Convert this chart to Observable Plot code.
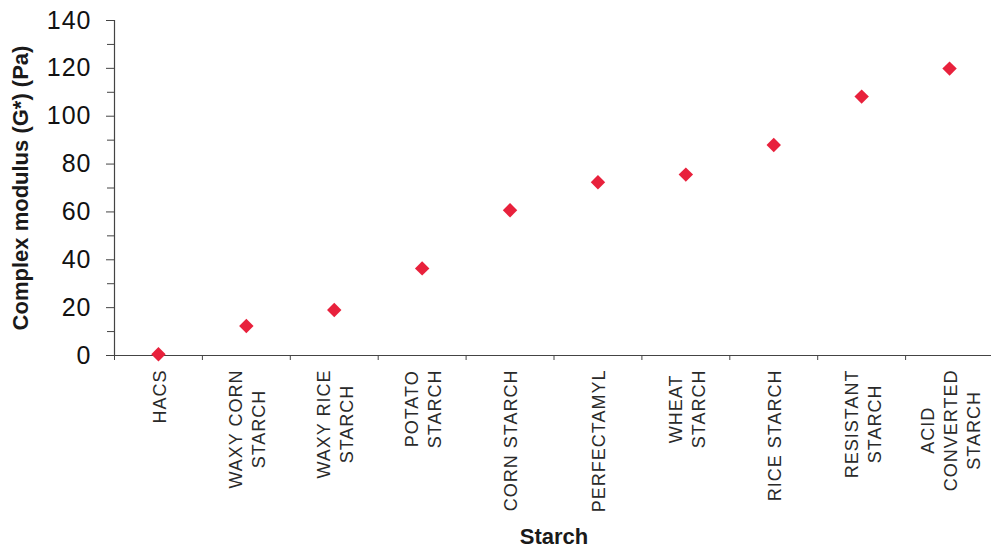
<!DOCTYPE html>
<html>
<head>
<meta charset="utf-8">
<script src="https://cdn.jsdelivr.net/npm/d3@7"></script>
<script src="https://cdn.jsdelivr.net/npm/@observablehq/plot@0.6"></script>
<style>
  html, body { margin: 0; padding: 0; background: #fff; }
  #chart svg { display: block; }
</style>
</head>
<body>
<div id="chart"></div>
<script>
const categories = ["HACS", "WAXY CORN STARCH", "WAXY RICE STARCH", "POTATO STARCH", "CORN STARCH",
  "PERFECTAMYL", "WHEAT STARCH", "RICE STARCH", "RESISTANT STARCH", "ACID CONVERTED STARCH"];
const tickLabels = ["HACS", "WAXY CORN\nSTARCH", "WAXY RICE\nSTARCH", "POTATO\nSTARCH", "CORN STARCH",
  "PERFECTAMYL", "WHEAT\nSTARCH", "RICE STARCH", "RESISTANT\nSTARCH", "ACID\nCONVERTED\nSTARCH"];
const values = [0.5, 12.3, 19.0, 36.4, 60.7, 72.4, 75.6, 88.0, 108.2, 119.9];
const yMajorTicks = [0, 20, 40, 60, 80, 100, 120, 140];
const yMinorTicks = [10, 30, 50, 70, 90, 110, 130];

const data = categories.map((c, i) => ({category: c, value: values[i]}));
const labelOf = new Map(categories.map((c, i) => [c, tickLabels[i]]));

const W = 991, H = 550, mL = 114, mR = -2, mT = 20, mB = 195;
const step = (W - mL - mR) / categories.length;
const axisColor = "#444";

const chart = Plot.plot({
  width: W,
  height: H,
  marginLeft: mL,
  marginRight: mR,
  marginTop: mT,
  marginBottom: mB,
  style: {fontFamily: "'Liberation Sans', Arial, sans-serif", color: "#1a1a1a", background: "#fff", overflow: "visible"},
  x: {type: "band", domain: categories, padding: 0, round: false, label: null, axis: null},
  y: {domain: [0, 140], label: null, axis: null},
  marks: [
    // y axis line
    Plot.frame({anchor: "left", stroke: axisColor, strokeWidth: 1.2}),
    // minor y ticks
    Plot.axisY({ticks: yMinorTicks, tickSize: 7, tickFormat: () => "", stroke: axisColor, label: null}),
    // major y ticks with labels
    Plot.axisY({ticks: yMajorTicks, tickSize: 8, tickPadding: 15, fontSize: 25, stroke: axisColor, fill: "#111", label: null, ariaLabel: "ymajor"}),
    // x axis baseline
    Plot.ruleY([0], {stroke: axisColor, strokeWidth: 1.2}),
    // x boundary ticks (between categories)
    Plot.ruleX(categories, {x: d => d, y1: 0, y2: 0, insetBottom: -5, dx: -step / 2, stroke: axisColor}),
    // x tick labels
    Plot.axisX({
      tickSize: 0, tickPadding: 14, tickRotate: -90, fontSize: 18,
      tickFormat: d => labelOf.get(d), textAnchor: "middle", lineAnchor: "middle", lineHeight: 1.28,
      fill: "#2a2a2a", label: null, ariaLabel: "xlabels"
    }),
    // data points
    Plot.dot(data, {x: "category", y: "value", symbol: "diamond2", r: 6.5, fill: "#e8213c", stroke: "none"}),
    // axis titles
    Plot.text(["Starch"], {frameAnchor: "bottom", dy: 188, fontSize: 22, fontWeight: "bold", text: d => d, lineAnchor: "bottom", fill: "#1a1a1a", ariaLabel: "xtitle"}),
    Plot.text(["Complex modulus (G*) (Pa)"], {frameAnchor: "left", dx: -94, rotate: -90, fontSize: 22, fontWeight: "bold", text: d => d, textAnchor: "middle", lineAnchor: "middle", fill: "#1a1a1a", ariaLabel: "ytitle"})
  ]
});

document.getElementById("chart").appendChild(chart);

const groupsWith = key => [...chart.querySelectorAll("g")].filter(n => (n.getAttribute("aria-label") || "").includes(key));
const spacing = (key, px) => groupsWith(key).forEach(g => g.querySelectorAll("text").forEach(t => t.style.letterSpacing = px + "px"));
spacing("ymajor", 1);
spacing("xtitle", 0.5);
spacing("ytitle", 0.9);
spacing("xlabels", 1);

// Excel-style: the longest line of each rotated label starts just below the axis,
// with the lines centred on each other.
groupsWith("xlabels").forEach(g => {
  g.querySelectorAll("text").forEach(t => {
    const b = t.getBBox();
    const tr = t.getAttribute("transform") || "";
    t.setAttribute("transform", tr + ` translate(${-(b.x + b.width)},0)`);
  });
});
</script>
</body>
</html>
